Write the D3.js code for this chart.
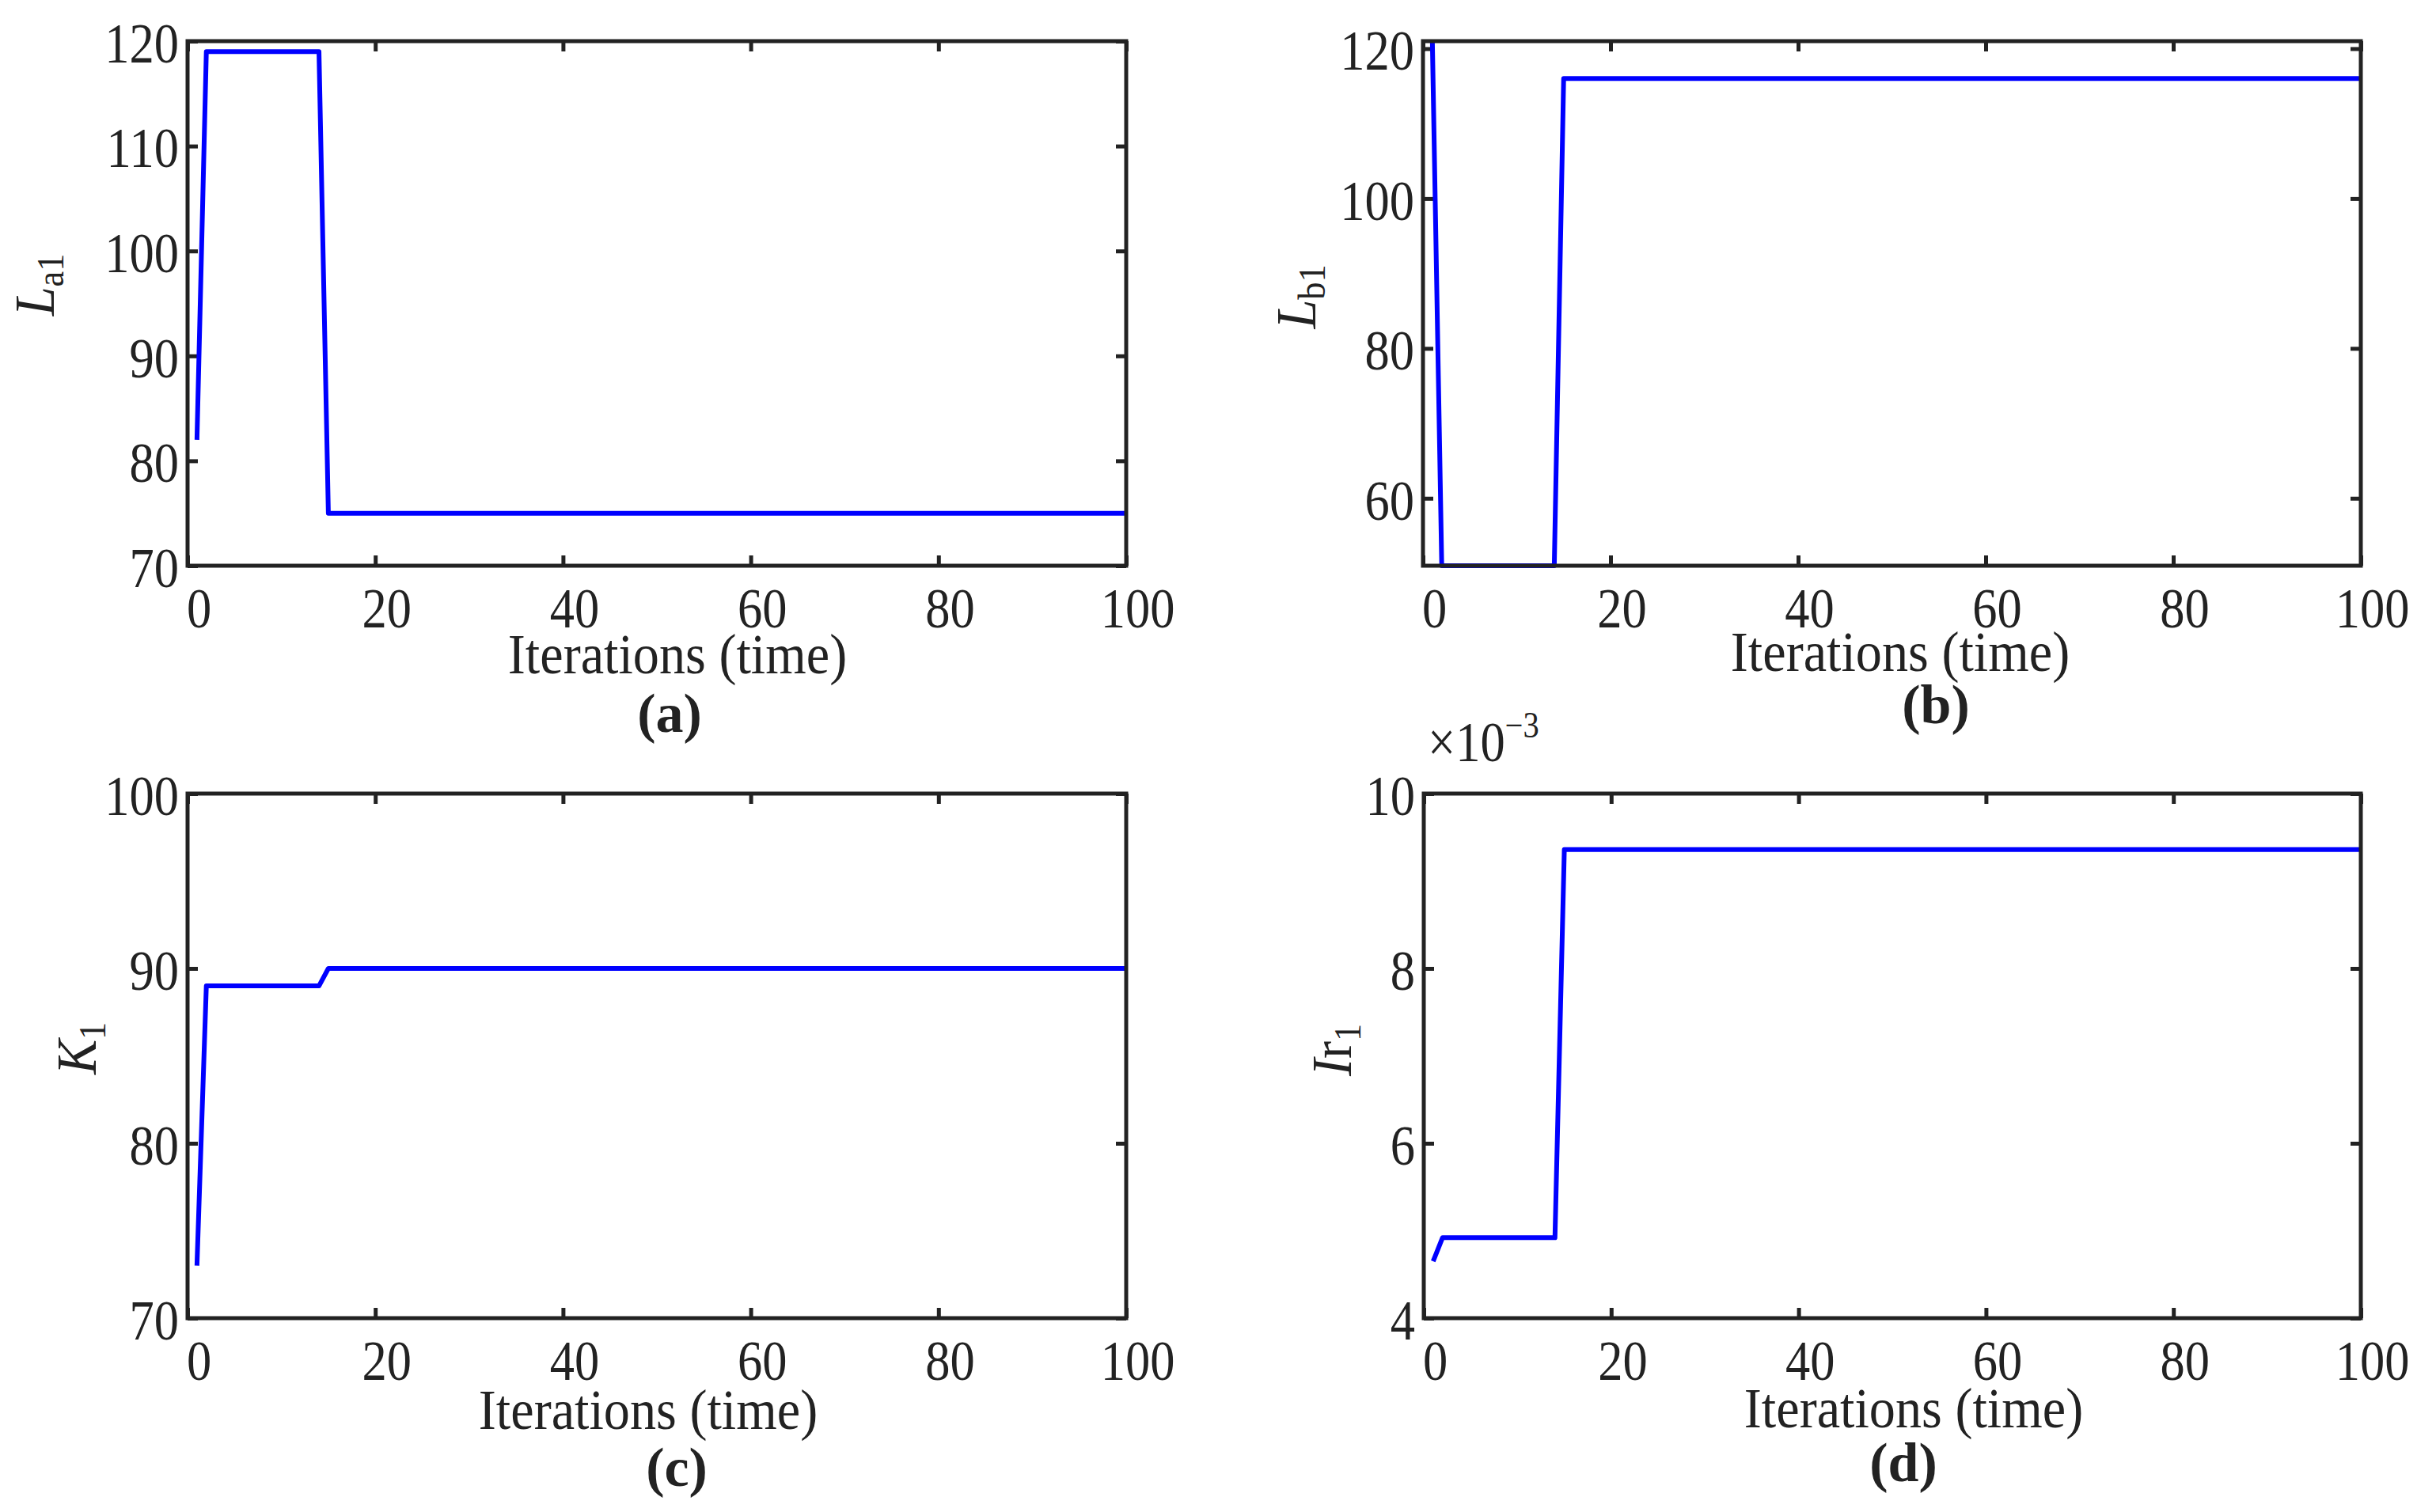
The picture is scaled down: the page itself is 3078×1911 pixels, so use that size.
<!DOCTYPE html>
<html>
<head>
<meta charset="utf-8">
<script src="https://cdn.jsdelivr.net/npm/d3@7"></script>
<style>
  body { margin: 0; background: #fff; }
  svg { display: block; }
  text { font-family: "Liberation Serif", "Times New Roman", serif; fill: #222; }
</style>
</head>
<body>
<svg id="chart" width="3078" height="1911"></svg>
<script>
// Iterations at which each curve changes, and the value there.
var iterA = [1, 2, 14, 15, 100];
var valA = [82, 119, 119, 75, 75];

var iterB = [1, 2, 14, 15, 100];
var valB = [121, 51, 51, 116, 116];

var iterC = [1, 2, 14, 15, 100];
var valC = [73, 89, 89, 90, 90];

var iterD = [1, 2, 14, 15, 100];
var valD = [0.00465, 0.00492, 0.00492, 0.00936, 0.00936];

// Tick values.
var xTicks = [0, 20, 40, 60, 80, 100];
var yTicksA = [70, 80, 90, 100, 110, 120];
var yTicksB = [60, 80, 100, 120];
var yTicksC = [70, 80, 90, 100];
var yTicksD = [0.004, 0.006, 0.008, 0.01];

var xLabel = 'Iterations (time)';

// Constants.
var kTickSize = 13;
var kTickFont = 71;
var kTickScale = 0.88;
var kLabelFont = 72;
var kLabelScale = 0.92;
var kTagFont = 70;
var kAxisColor = '#222';
var kLineColor = '#0000ff';

var svg = d3.select('#chart');

// Squeeze texts horizontally, keeping their anchor point.
function Condense(sel, sx)
{
  sel.each(function() {
    var t = d3.select(this);
    var x = +t.attr('x') || 0;
    var y = +t.attr('y') || 0;
    t.attr('x', 0).attr('y', 0)
      .attr('transform', 'translate(' + x + ',' + y + ') scale(' + sx + ',1)');
  });
}

// Draw one panel.
function Panel(opt)
{
  var x = d3.scaleLinear().domain([0, 100]).range([opt.left, opt.right]);
  var y = d3.scaleLinear().domain(opt.yDomain).range([opt.bottom, opt.top]);
  var g = svg.append('g');

  // Bottom axis with labels.
  var bottomAxis = g.append('g')
    .attr('transform', 'translate(0,' + opt.bottom + ')')
    .call(d3.axisBottom(x).tickValues(xTicks).tickSizeInner(-kTickSize)
          .tickSizeOuter(0).tickFormat(d3.format('d')));
  bottomAxis.selectAll('text')
    .attr('y', 78).attr('dy', 0).attr('dx', 16)
    .style('font-size', kTickFont + 'px');
  Condense(bottomAxis.selectAll('text'), kTickScale);

  // Left axis with labels.
  var leftAxis = g.append('g')
    .attr('transform', 'translate(' + opt.left + ',0)')
    .call(d3.axisLeft(y).tickValues(opt.yTicks).tickSizeInner(-kTickSize)
          .tickSizeOuter(0).tickFormat(opt.yFormat || d3.format('d')));
  leftAxis.selectAll('text')
    .attr('x', -11).attr('dy', '0.37em')
    .style('font-size', kTickFont + 'px');
  Condense(leftAxis.selectAll('text'), kTickScale);

  // Top and right axes, ticks only.
  var topAxis = g.append('g')
    .attr('transform', 'translate(0,' + opt.top + ')')
    .call(d3.axisTop(x).tickValues(xTicks).tickSizeInner(-kTickSize)
          .tickSizeOuter(0));
  var rightAxis = g.append('g')
    .attr('transform', 'translate(' + opt.right + ',0)')
    .call(d3.axisRight(y).tickValues(opt.yTicks).tickSizeInner(-kTickSize)
          .tickSizeOuter(0));
  topAxis.selectAll('text').remove();
  rightAxis.selectAll('text').remove();

  g.selectAll('.tick line')
    .attr('stroke', kAxisColor).attr('stroke-width', 5);
  g.selectAll('.domain').remove();
  g.selectAll('.tick text').attr('fill', kAxisColor)
    .style('font-family', '"Liberation Serif", serif');

  // Data line.
  var points = opt.iters.map(function(it, i) { return [it, opt.values[i]]; });
  g.append('path')
    .datum(points)
    .attr('fill', 'none')
    .attr('stroke', kLineColor)
    .attr('stroke-width', 6)
    .attr('stroke-linejoin', 'round')
    .attr('d', d3.line()
      .x(function(d) { return x(d[0]); })
      .y(function(d) { return y(d[1]); }));

  // Axes box.
  g.append('rect')
    .attr('x', opt.left).attr('y', opt.top)
    .attr('width', opt.right - opt.left)
    .attr('height', opt.bottom - opt.top)
    .attr('fill', 'none')
    .attr('stroke', kAxisColor)
    .attr('stroke-width', 5);

  // X label and panel letter.
  var xl = g.append('text')
    .attr('x', opt.xLabelX).attr('y', opt.bottom + opt.xLabelDy)
    .attr('text-anchor', 'middle')
    .style('font-size', kLabelFont + 'px')
    .text(xLabel);
  Condense(xl, kLabelScale);
  g.append('text')
    .attr('x', opt.tagX).attr('y', opt.bottom + opt.tagDy)
    .attr('text-anchor', 'middle')
    .style('font-size', kTagFont + 'px')
    .style('font-weight', 'bold')
    .text(opt.tag);

  // Y label, rotated, with subscript.
  var yl = g.append('text')
    .attr('transform', 'translate(' + opt.yLabelX + ',' + opt.yLabelY +
          ') rotate(-90) scale(0.92,1)')
    .attr('text-anchor', 'middle')
    .style('font-size', '72px');
  opt.yLabel.forEach(function(part) {
    var t = yl.append('tspan').text(part.t);
    if (part.italic)
      t.style('font-style', 'italic');
    if (part.sub)
      t.style('font-size', '48px').attr('dy', 12);
  });

  return { x: x, y: y, g: g };
}

Panel({
  left: 237, right: 1423, top: 52, bottom: 715,
  yDomain: [70, 120], yTicks: yTicksA,
  iters: iterA, values: valA,
  xLabelX: 856, xLabelDy: 136, tagX: 846, tagDy: 210, tag: '(a)',
  yLabelX: 68, yLabelY: 360,
  yLabel: [{ t: 'L', italic: true }, { t: 'a1', sub: true }]
});

Panel({
  left: 1798, right: 2983, top: 52, bottom: 715,
  yDomain: [51, 121], yTicks: yTicksB,
  iters: iterB, values: valB,
  xLabelX: 2401, xLabelDy: 133, tagX: 2446, tagDy: 199, tag: '(b)',
  yLabelX: 1662, yLabelY: 375,
  yLabel: [{ t: 'L', italic: true }, { t: 'b1', sub: true }]
});

Panel({
  left: 237, right: 1423, top: 1003, bottom: 1666,
  yDomain: [70, 100], yTicks: yTicksC,
  iters: iterC, values: valC,
  xLabelX: 819, xLabelDy: 140, tagX: 855, tagDy: 212, tag: '(c)',
  yLabelX: 121, yLabelY: 1325,
  yLabel: [{ t: 'K', italic: true }, { t: '1', sub: true }]
});

var panelD = Panel({
  left: 1799, right: 2983, top: 1003, bottom: 1666,
  yDomain: [0.004, 0.01], yTicks: yTicksD,
  yFormat: function(d) { return d3.format('d')(Math.round(d * 1000)); },
  iters: iterD, values: valD,
  xLabelX: 2418, xLabelDy: 138, tagX: 2405, tagDy: 206, tag: '(d)',
  yLabelX: 1707, yLabelY: 1327,
  yLabel: [{ t: 'I', italic: true }, { t: 'r' }, { t: '1', sub: true }]
});

// Exponent note above panel (d).
var expo = panelD.g.append('text')
  .attr('x', 1804).attr('y', 962)
  .style('font-size', kTickFont + 'px');
expo.append('tspan').text('\u00d710');
expo.append('tspan').text('\u22123')
  .style('font-size', '46px')
  .attr('dy', -30);
Condense(expo, kTickScale);
</script>
</body>
</html>
